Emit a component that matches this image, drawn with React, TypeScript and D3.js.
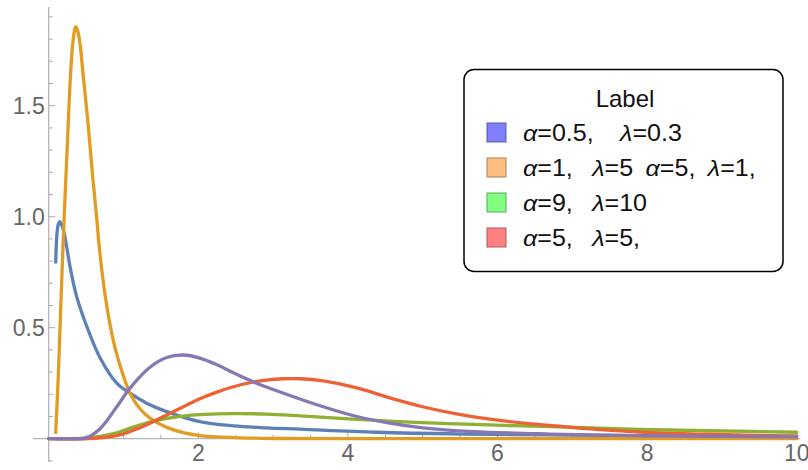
import React from 'react';
import * as d3 from 'd3';

// values
const blueX = [0.094, 0.11, 0.13, 0.15, 0.196, 0.24, 0.285, 0.374, 0.51, 0.686, 0.91, 1.087, 1.31, 1.578, 2.02, 2.47, 2.91, 3.36, 4.38, 5.54, 6.7, 8.0, 10];
const blueY = [0.795, 0.92, 0.968, 0.978, 0.94, 0.865, 0.775, 0.64, 0.505, 0.365, 0.25, 0.205, 0.16, 0.122, 0.077, 0.058, 0.049, 0.043, 0.029, 0.021, 0.017, 0.014, 0.011];

const orangeX = [0.094, 0.128, 0.16, 0.19, 0.22, 0.25, 0.285, 0.316, 0.34, 0.361, 0.385, 0.418, 0.463, 0.53, 0.588, 0.64, 0.686, 0.775, 0.886, 0.997, 1.087, 1.22, 1.354, 1.578, 1.8, 2.02, 2.47, 3.0, 4.0, 6.0, 8.0, 10];
const orangeY = [0.027, 0.28, 0.58, 0.86, 1.1, 1.33, 1.6, 1.76, 1.83, 1.856, 1.84, 1.78, 1.63, 1.405, 1.18, 1.0, 0.83, 0.6, 0.41, 0.285, 0.205, 0.135, 0.093, 0.051, 0.027, 0.014, 0.005, 0.001, 0, 0, 0, 0];

const greenX = [0, 0.5, 0.69, 0.91, 1.13, 1.354, 1.578, 1.8, 2.02, 2.47, 2.91, 3.36, 4.12, 5.0, 5.9, 6.7, 7.9, 10];
const greenY = [0, 0.002, 0.01, 0.026, 0.052, 0.075, 0.091, 0.102, 0.108, 0.113, 0.111, 0.103, 0.087, 0.072, 0.062, 0.054, 0.042, 0.029];

const redX = [0, 0.6, 0.91, 1.13, 1.354, 1.578, 1.8, 2.02, 2.25, 2.47, 2.69, 2.91, 3.14, 3.36, 3.67, 4.12, 4.56, 5.0, 5.45, 5.9, 6.35, 6.7, 7.24, 7.9, 8.8, 10];
const redY = [0, 0.002, 0.014, 0.038, 0.07, 0.107, 0.144, 0.18, 0.21, 0.234, 0.252, 0.264, 0.27, 0.27, 0.26, 0.229, 0.184, 0.144, 0.112, 0.088, 0.07, 0.06, 0.044, 0.03, 0.02, 0.012];

const purpleX = [0, 0.4, 0.51, 0.686, 0.91, 1.087, 1.354, 1.578, 1.8, 2.02, 2.25, 2.47, 2.78, 3.14, 3.67, 4.12, 4.56, 5.0, 5.68, 6.7, 8.0, 10];
const purpleY = [0, 0, 0.005, 0.045, 0.144, 0.228, 0.322, 0.366, 0.377, 0.363, 0.333, 0.297, 0.25, 0.205, 0.144, 0.1, 0.07, 0.049, 0.032, 0.021, 0.013, 0.008];

const xMajor = [2, 4, 6, 8, 10];
const yMajor = [0.5, 1.0, 1.5];

const legendTitle = 'Label';
const legendLabels = ['α=0.5,   λ=0.3', 'α=1,  λ=5 α=5, λ=1,', 'α=9,  λ=10', 'α=5,  λ=5,'];
const legendColors = ['#7f7fff', '#ffbf80', '#80ff80', '#ff8080'];

const series = [
  { xs: blueX, ys: blueY, color: '#5e81b5' },
  { xs: orangeX, ys: orangeY, color: '#e19c24' },
  { xs: greenX, ys: greenY, color: '#8fb032' },
  { xs: redX, ys: redY, color: '#eb6235' },
  { xs: purpleX, ys: purpleY, color: '#8778b3' },
];

const font = "'Liberation Sans', Arial, sans-serif";

// italic greek letters like Mathematica's legend, with a bit of extra room in front
function LabelText({ text, x, y }: { text: string; x: number; y: number }) {
  const parts = text.split(/([αλ])/).filter(p => p !== '');
  return (
    <g transform={`translate(${x},${y}) scale(1.09,1)`}>
      <text x={0} y={0} fontSize={23} fontFamily={font} fill="#111" style={{ whiteSpace: 'pre' }}>
        {parts.map((p, i) => {
          const greek = p === 'α' || p === 'λ';
          const gap = greek && i > 0 ? 5 : 0;
          return <tspan key={i} dx={gap} fontStyle={greek ? 'italic' : 'normal'}>{p}</tspan>;
        })}
      </text>
    </g>
  );
}

export default function App() {
  const width = 808, height = 470;
  const x = d3.scaleLinear().domain([0, 10]).range([48.7, 796.7]);
  const y = d3.scaleLinear().domain([0, 1]).range([438.7, 216.7]);

  const line = d3.line<[number, number]>()
    .x(d => x(d[0]))
    .y(d => y(d[1]))
    .curve(d3.curveCatmullRom.alpha(0.5));

  const xMinor = d3.range(0.5, 10.01, 0.5).filter(v => !xMajor.some(m => Math.abs(m - v) < 1e-6));
  const yMinor = d3.range(-0.1, 1.91, 0.1).filter(v => !yMajor.some(m => Math.abs(m - v) < 1e-6) && Math.abs(v) > 1e-6);

  const lx = 464, ly = 69.5;

  return (
    <svg width={width} height={height} style={{ position: 'absolute', left: 0, top: 0, background: '#fff' }}>
      {/* axes */}
      <line x1={x(0)} x2={x(0)} y1={y(-0.105)} y2={y(1.945)} stroke="#b5b5b5" strokeWidth={1.3} />
      <line x1={x(-0.21)} x2={x(10.05)} y1={y(0)} y2={y(0)} stroke="#b5b5b5" strokeWidth={1.3} />
      {yMinor.map(v => (
        <line key={'ym' + v} x1={x(0)} x2={x(0) + 4} y1={y(v)} y2={y(v)} stroke="#aaa" strokeWidth={1} />
      ))}
      {yMajor.map(v => (
        <g key={'yM' + v}>
          <line x1={x(0)} x2={x(0) + 6.5} y1={y(v)} y2={y(v)} stroke="#aaa" strokeWidth={1} />
          <text x={x(0) - 4} y={y(v)} dy="0.36em" textAnchor="end" fontSize={23} fontFamily={font} fill="#666">
            {d3.format('.1f')(v)}
          </text>
        </g>
      ))}
      {xMinor.map(v => (
        <line key={'xm' + v} x1={x(v)} x2={x(v)} y1={y(0)} y2={y(0) - 4} stroke="#aaa" strokeWidth={1} />
      ))}
      {xMajor.map(v => (
        <g key={'xM' + v}>
          <line x1={x(v)} x2={x(v)} y1={y(0)} y2={y(0) - 6.5} stroke="#aaa" strokeWidth={1} />
          <text x={x(v)} y={461} textAnchor="middle" fontSize={23} fontFamily={font} fill="#666">{v}</text>
        </g>
      ))}

      {/* curves */}
      {series.map((s, i) => (
        <path key={i} d={line(s.xs.map((v, j) => [v, s.ys[j]] as [number, number])) || ''}
          fill="none" stroke={s.color} strokeWidth={3.3} strokeLinejoin="round" strokeLinecap="round" />
      ))}

      {/* legend */}
      <rect x={lx} y={ly} width={319} height={202} rx={10} ry={10} fill="#fff" stroke="#000" strokeWidth={1.5} />
      <text x={625} y={107} textAnchor="middle" fontSize={24} fontFamily={font} fill="#111">{legendTitle}</text>
      {legendLabels.map((lab, i) => (
        <g key={lab}>
          <rect x={487} y={123 + i * 35} width={19} height={19} fill={legendColors[i]}
            stroke={d3.color(legendColors[i])!.darker(1.3).toString()} strokeOpacity={0.6} strokeWidth={1.5} />
          <LabelText text={lab} x={523} y={141 + i * 35} />
        </g>
      ))}
    </svg>
  );
}
